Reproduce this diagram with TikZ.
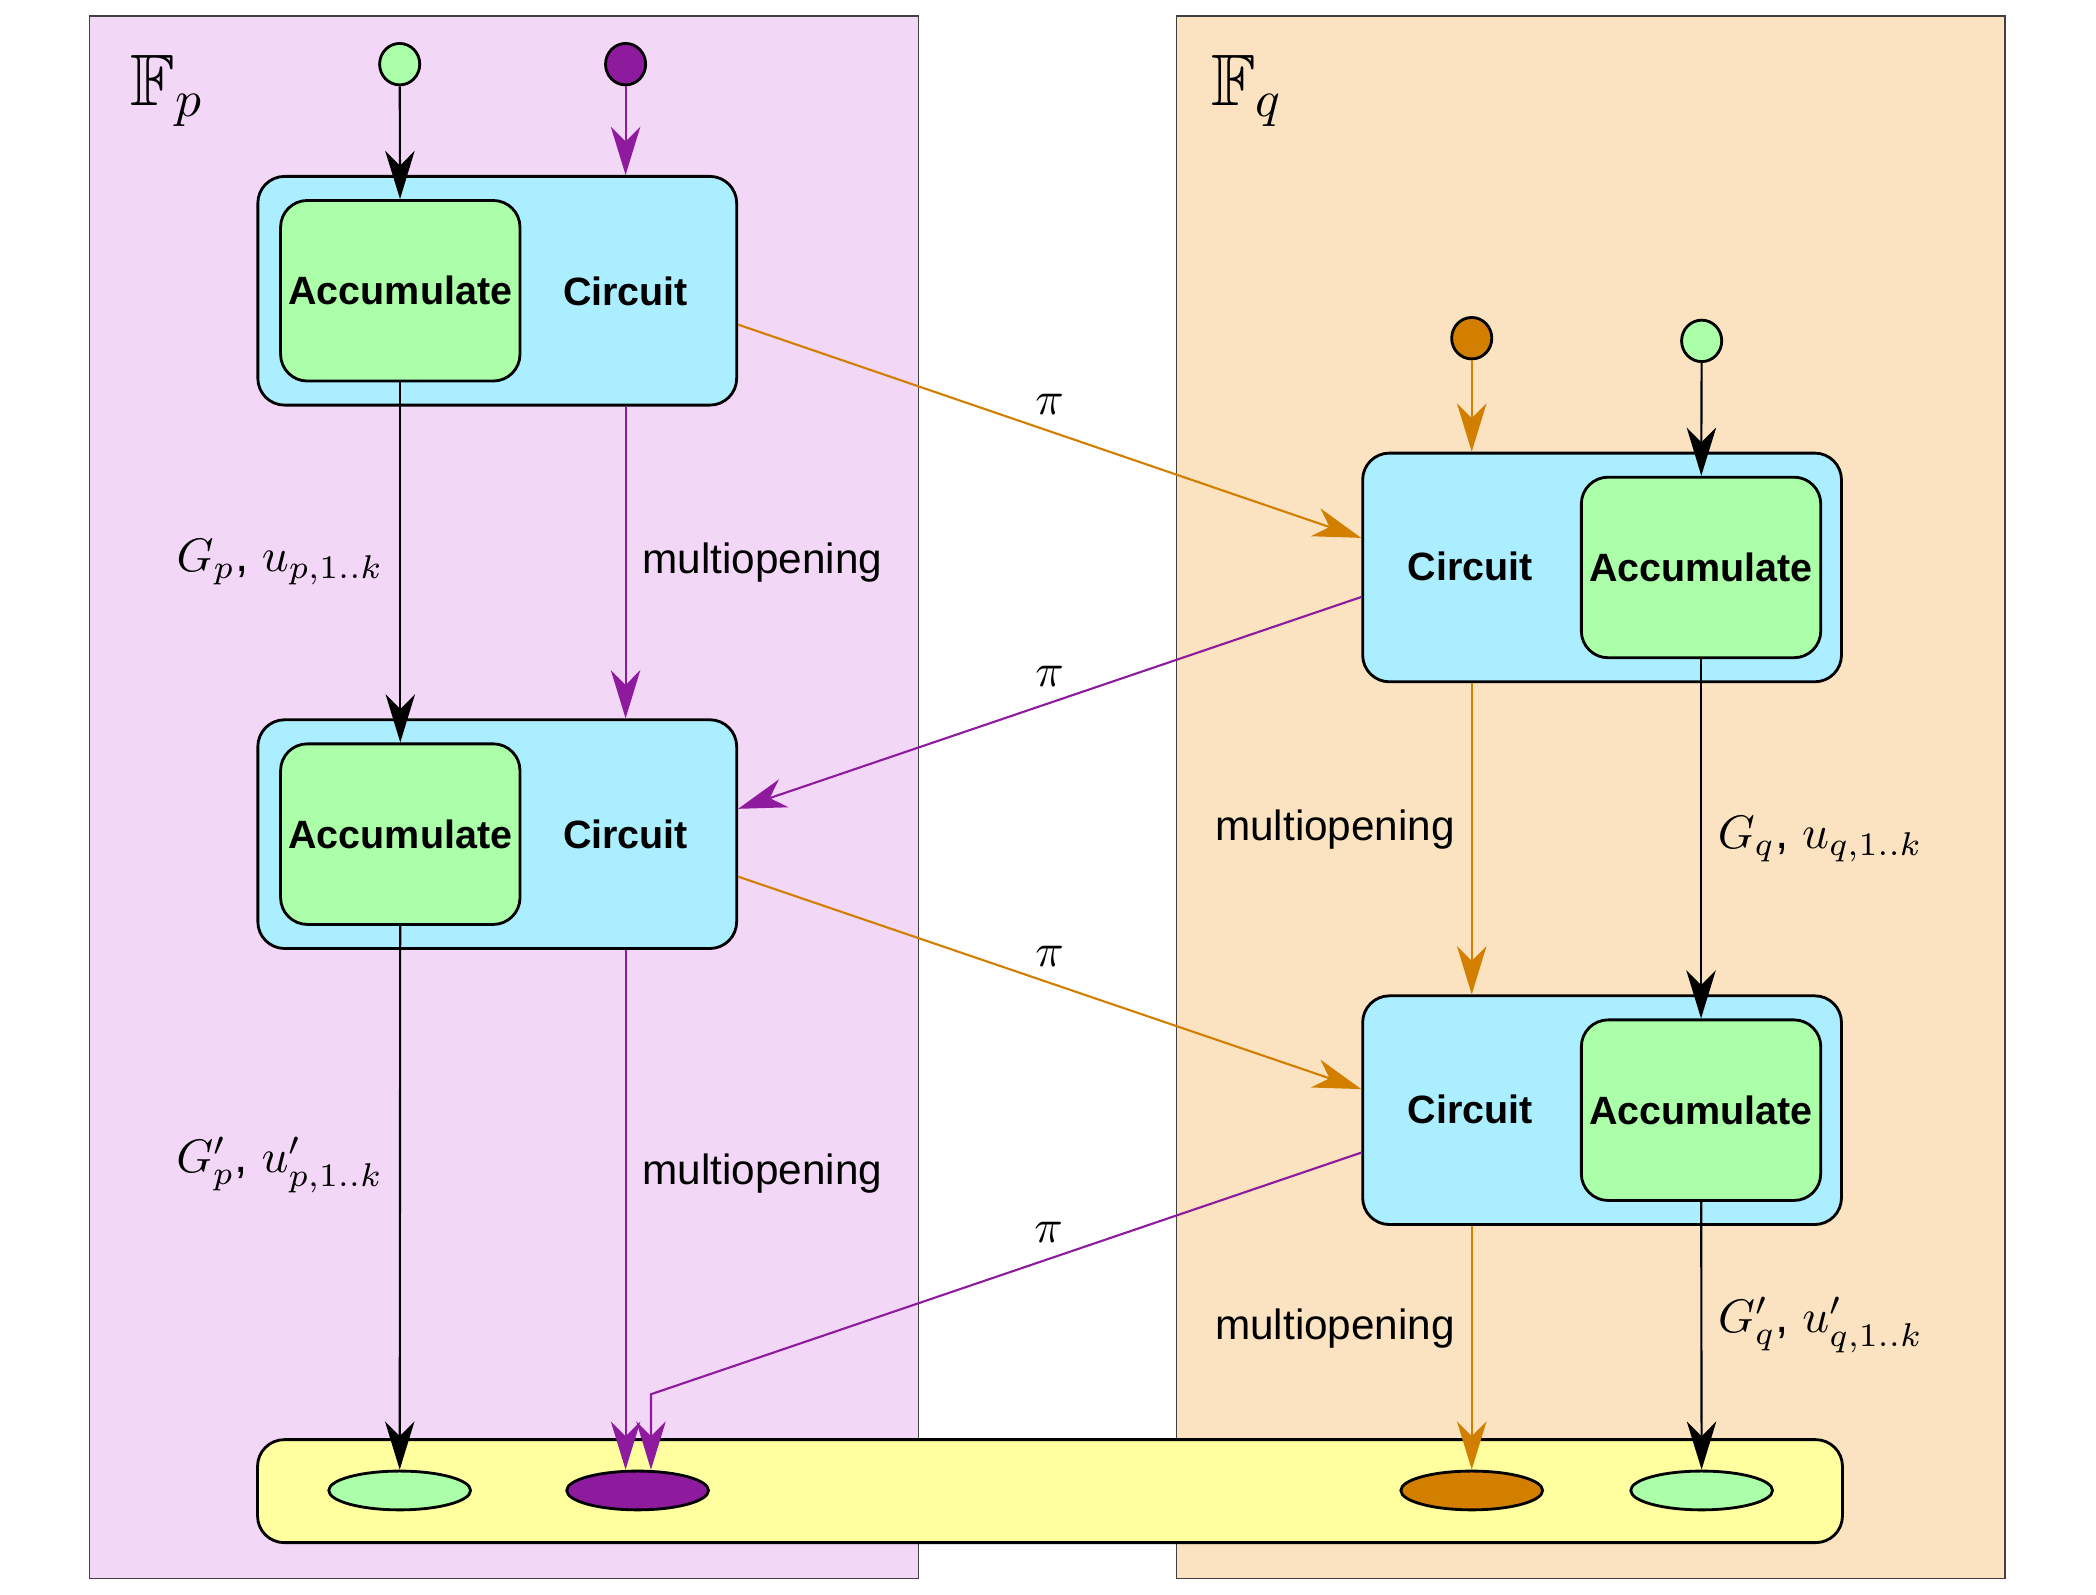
\documentclass[tikz,border=0pt]{standalone}
\usepackage{amssymb}
\usepackage{amsmath}
\usepackage[no-math]{fontspec}
\setmainfont{Liberation Sans}
\usepackage{tikz}
\usetikzlibrary{arrows.meta}
\usetikzlibrary{positioning}
\usetikzlibrary{shapes.geometric}
\definecolor{pinkbg}{HTML}{F3D7F6}
\definecolor{orangebg}{HTML}{FBE3C1}
\definecolor{cyanbox}{HTML}{AAEEFF}
\definecolor{greenbox}{HTML}{AAFFA8}
\definecolor{yellowbar}{HTML}{FFFFA0}
\definecolor{purp}{HTML}{8E1A9E}
\definecolor{orng}{HTML}{D27F00}

\begin{document}
\begin{tikzpicture}[x=0.01cm,y=-0.01cm,
	>={Stealth[length=0.36cm,width=0.22cm,inset=0.11cm]},
	panel/.style={draw=black!75,line width=0.3pt},
	cbox/.style={rectangle,rounded corners=0.2cm,draw,fill=cyanbox,line width=0.6pt,minimum width=3.58cm,minimum height=1.71cm},
	acc/.style={rectangle,rounded corners=0.2cm,draw,fill=greenbox,line width=0.6pt,minimum width=1.79cm,minimum height=1.35cm,inner sep=0pt,font=\fontsize{8.4}{10}\selectfont\bfseries},
	circ/.style={font=\fontsize{8.4}{10}\selectfont\bfseries},
	dot/.style={ellipse,draw,line width=0.6pt,minimum width=0.3cm,minimum height=0.31cm,inner sep=0pt},
	res/.style={ellipse,draw,line width=0.6pt,minimum width=1.06cm,minimum height=0.29cm,inner sep=0pt},
	flow/.style={->,line width=0.45pt},
	mo/.style={font=\fontsize{9}{11}\selectfont},
	ml/.style={font=\fontsize{10.2}{12}\selectfont}
]
\useasboundingbox (0,0) rectangle (1568,1193);

% the two fields
\draw[panel,fill=pinkbg] (67,12) rectangle (687,1181);
\draw[panel,fill=orangebg] (880,12) rectangle (1500,1181);
\node (fp) at (125,68) {\fontsize{15.5}{18}\selectfont$\mathbb{F}_p$};
\node (fq) at (933,68) {\fontsize{15.5}{18}\selectfont$\mathbb{F}_q$};

% final results
\node (bar) [rectangle,rounded corners=0.2cm,draw,fill=yellowbar,line width=0.6pt,minimum width=11.85cm,minimum height=0.77cm] at (785.5,1115.5) {};
\node (e1) [res,fill=greenbox] at (299,1115) {};
\node (e2) [res,fill=purp] at (477,1115) {};
\node (e3) [res,fill=orng] at (1101,1115) {};
\node (e4) [res,fill=greenbox] at (1273,1115) {};

% F_p side
\node (gl) [dot,fill=greenbox] at (299,48) {};
\node (pl) [dot,fill=purp] at (468,48) {};
\node (ctl1) [cbox] at (372,217.5) {};
\node (acl1) [acc,right=0.17cm of ctl1.west,anchor=west] {Accumulate};
\node (cil1) [circ] at (468,218) {Circuit};
\node (ctl2) [cbox] at (372,624) {};
\node (acl2) [acc,right=0.17cm of ctl2.west,anchor=west] {Accumulate};
\node (cil2) [circ] at (468,624) {Circuit};

% F_q side
\node (orq) [dot,fill=orng] at (1101,253) {};
\node (gr) [dot,fill=greenbox] at (1273,255) {};
\node (ctr1) [cbox] at (1198.5,424.5) {};
\node (acr1) [acc,left=0.155cm of ctr1.east,anchor=east] {Accumulate};
\node (cir1) [circ] at (1100,424) {Circuit};
\node (ctr2) [cbox] at (1198.5,830.5) {};
\node (acr2) [acc,left=0.155cm of ctr2.east,anchor=east] {Accumulate};
\node (cir2) [circ] at (1100,830) {Circuit};

% inputs
\draw[flow] (gl) -- (acl1);
\draw[flow,purp] (pl) -- (pl |- ctl1.north);
\draw[flow,orng] (orq) -- (orq |- ctr1.north);
\draw[flow] (gr) -- (acr1);

% F_p chain
\draw[flow] (acl1) -- (acl2) node[midway,left,ml] {$G_p$, $u_{p,1..k}$};
\draw[flow,purp] (cil1 |- ctl1.south) -- (cil1 |- ctl2.north) node[midway,right,mo,black] {multiopening};
\draw[flow] (acl2) -- (e1) node[pos=0.44,left,ml] {$G'_p$, $u'_{p,1..k}$};
\draw[flow,purp] (cil2 |- ctl2.south) -- (cil2 |- e2.north) node[pos=0.43,right,mo,black] {multiopening};

% F_q chain
\draw[flow] (acr1) -- (acr2) node[midway,right,ml] {$G_q$, $u_{q,1..k}$};
\draw[flow,orng] (orq |- ctr1.south) -- (orq |- ctr2.north) node[pos=0.47,left,mo,black] {multiopening};
\draw[flow] (acr2) -- (e4) node[pos=0.46,right,ml] {$G'_q$, $u'_{q,1..k}$};
\draw[flow,orng] (orq |- ctr2.south) -- (e3) node[pos=0.42,left,mo,black] {multiopening};

% proofs across
\draw[flow,orng] (ctl1.-8) -- (ctr1.173) node[midway,above,ml,black] {$\pi$};
\draw[flow,purp] (ctr1.187) -- (ctl2.6) node[midway,above,ml,black] {$\pi$};
\draw[flow,orng] (ctl2.-10) -- (ctr2.175) node[midway,above,ml,black] {$\pi$};
\coordinate (kk) at (487,1043);
\draw[flow,purp] (ctr2.190) -- (kk) node[pos=0.44,above,ml,black] {$\pi$} -- (kk |- e2.north);
\end{tikzpicture}
\end{document}
